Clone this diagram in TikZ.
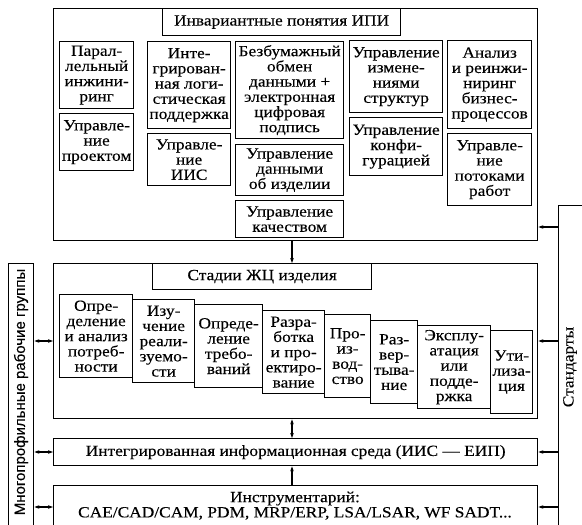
\documentclass[tikz,border=0pt]{standalone}
\usepackage{fontspec}
\setmainfont{Liberation Serif}[FakeStretch=1.12,FakeBold=0.2]
\newfontfamily\barsans{Liberation Sans}[FakeBold=0.2]
\usetikzlibrary{arrows.meta}
\newcommand\mybox[6]{\node[bx, minimum width=#4pt, minimum height=#5pt, anchor=north west] (#1) at (#2,#3) {#6};}
\begin{document}
\begin{tikzpicture}[x=1pt,y=-1pt,
  bx/.style={draw, line width=1.3pt, fill=white, align=center, inner sep=0pt,
    font=\fontsize{15.5}{15.2}\selectfont},
  frame/.style={draw, line width=1.4pt, inner sep=0pt, fill=white},
  arr/.style={line width=1.1pt, -{Stealth[length=5pt,width=3.6pt]}},
  darr/.style={line width=1.1pt, {Stealth[length=5pt,width=3.6pt]}-{Stealth[length=5pt,width=3.6pt]}}]
\useasboundingbox (0,0) rectangle (582,525);
\clip (0,0) rectangle (582,525);
% side bars
\node[frame, minimum width=25pt, minimum height=290pt, anchor=north west] (lbar) at (8,263) {};
\node[rotate=90, font=\barsans\fontsize{15}{15}\selectfont] (ltext) at (21,392) {Многопрофильные рабочие группы};
\node[frame, minimum width=50pt, minimum height=340pt, anchor=north west] (rbar) at (558,205) {};
\node[rotate=90, font=\fontsize{15.5}{15}\selectfont] (rtext) at (570,367) {Стандарты};
% top block
\node[frame, minimum width=484pt, minimum height=232pt, anchor=north west] (top) at (53,8) {};
\mybox{ttl}{162}{8}{238}{27}{Инвариантные понятия ИПИ}
\mybox{a1}{59}{41}{74}{67}{Парал-\\лельный\\инжини-\\ринг}
\mybox{a2}{59}{113}{74}{57}{Управле-\\ние\\проектом}
\mybox{b1}{147}{41}{83}{87}{Инте-\\грирован-\\ная логи-\\стическая\\поддержка}
\mybox{b2}{147}{133}{83}{52}{Управле-\\ние\\ИИС}
\mybox{c1}{235}{41}{108}{97}{Безбумажный\\обмен\\данными +\\электронная\\цифровая\\подпись}
\mybox{c2}{235}{144}{108}{51}{Управление\\данными\\об изделии}
\mybox{c3}{235}{200}{108}{37}{Управление\\качеством}
\mybox{d1}{349}{40}{93}{72}{Управление\\измене-\\ниями\\структур}
\mybox{d2}{349}{117}{93}{58}{Управление\\конфи-\\гурацией}
\mybox{e1}{447}{40}{84}{88}{Анализ\\и реинжи-\\ниринг\\бизнес-\\процессов}
\mybox{e2}{447}{133}{84}{72}{Управле-\\ние\\потоками\\работ}
% stages block
\node[frame, minimum width=484pt, minimum height=155pt, anchor=north west] (stg) at (53,263) {};
\mybox{sttl}{152}{263}{219}{26}{Стадии ЖЦ изделия}
\mybox{s1}{59}{294}{73}{83}{Опре-\\деление\\и анализ\\потреб-\\ности}
\mybox{s2}{132}{299}{62}{83}{Изу-\\чение\\реали-\\зуемо-\\сти}
\mybox{s3}{194}{304}{68}{83}{Опреде-\\ление\\требо-\\ваний}
\mybox{s4}{262}{310}{62}{83}{Разра-\\ботка\\и про-\\ектиро-\\вание}
\mybox{s5}{324}{314}{46}{83}{Про-\\из-\\вод-\\ство}
\mybox{s6}{370}{320}{47}{83}{Раз-\\вер-\\тыва-\\ние}
\mybox{s7}{417}{325}{73}{83}{Эксплу-\\атация\\или\\подде-\\ржка}
\mybox{s8}{490}{330}{42}{83}{Ути-\\лиза-\\ция}
% IIS
\node[frame, minimum width=484pt, minimum height=27pt, anchor=north west,
  font=\fontsize{15.5}{15.2}\selectfont] (iis) at (53,438) {Интегрированная информационная среда (ИИС — ЕИП)};
% tools
\node[frame, minimum width=484pt, minimum height=60pt, anchor=north west] (tools) at (53,485) {};
\node[font=\fontsize{15.5}{15.2}\selectfont, align=center, anchor=north] (ttext) at (295,488)
  {Инструментарий:\\CAE/CAD/CAM, PDM, MRP/ERP, LSA/LSAR, WF SADT...};
% connectors
\coordinate (mid) at (292,0);
\draw[arr] (top.south -| mid) -- (stg.north -| mid);
\draw[darr] (stg.south -| mid) -- (iis.north -| mid);
\draw[arr] (tools.north -| mid) -- (iis.south -| mid);
\coordinate (y1) at (0,341);
\coordinate (y2) at (0,452);
\coordinate (y3) at (0,507);
\coordinate (y0) at (0,227);
\draw[darr] (lbar.east |- y1) -- (stg.west |- y1);
\draw[darr] (lbar.east |- y2) -- (iis.west |- y2);
\draw[darr] (lbar.east |- y3) -- (tools.west |- y3);
\draw[arr] (rbar.west |- y0) -- (top.east |- y0);
\draw[arr] (rbar.west |- y1) -- (stg.east |- y1);
\draw[arr] (rbar.west |- y2) -- (iis.east |- y2);
\draw[arr] (rbar.west |- y3) -- (tools.east |- y3);
\end{tikzpicture}
\end{document}
